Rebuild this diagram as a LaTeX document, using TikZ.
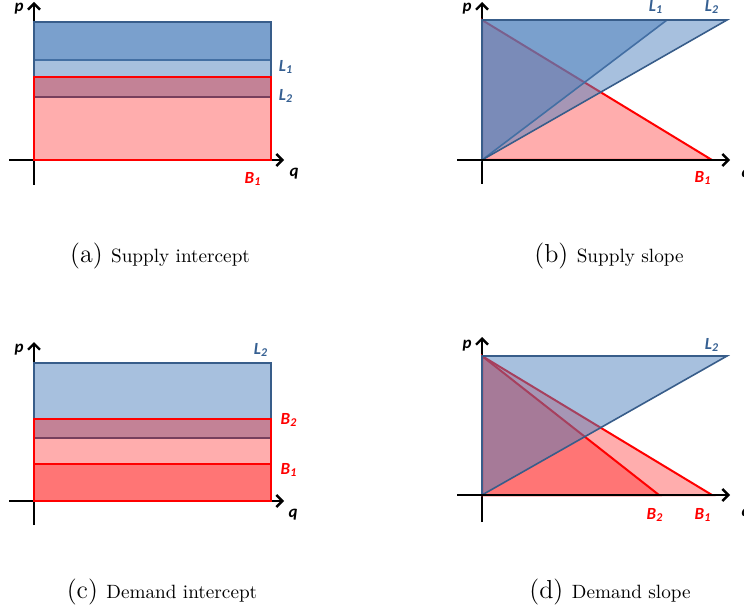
\documentclass[tikz,border=0pt]{standalone}
\usepackage{fontspec}
\newfontfamily\lblfont{Carlito}
\usetikzlibrary{arrows.meta}
\definecolor{bluefill}{RGB}{79,129,189}
\definecolor{blueline}{RGB}{56,93,138}
\definecolor{bluetext}{RGB}{54,96,146}
\newcommand{\curvelbl}[2]{#1\textsubscript{#2}}

\begin{document}
\begin{tikzpicture}[x=0.5pt,y=-0.5pt,
  axis/.style={-{Straight Barb[length=3pt,width=6pt]},line width=1.2pt},
  bluebox/.style={fill=bluefill,fill opacity=0.5,draw=blueline,line width=0.8pt},
  redbox/.style={fill=red,fill opacity=0.32,draw=red,line width=1pt},
  lbl/.style={inner sep=0pt,font=\lblfont\bfseries\itshape\fontsize{8.5}{10}\selectfont},
  bl/.style={lbl,text=bluetext},
  rl/.style={lbl,text=red},
  captxt/.style={inner sep=0pt,font=\fontsize{13}{15}\selectfont}]
\useasboundingbox (0,0) rectangle (744,609);

% (a) supply intercept
\coordinate (xa0) at (9,160);  \coordinate (xa1) at (284,160);
\coordinate (ya0) at (34,185); \coordinate (ya1) at (34,2);
\draw[axis] (xa0) -- (xa1);
\draw[axis] (ya0) -- (ya1);
\draw[bluebox] (34,22) rectangle (271,60);
\draw[bluebox] (34,22) rectangle (271,97);
\draw[redbox] (34,77) rectangle (271,160);
\node[lbl] (pa) at (19,9) {p};
\node[lbl] (qa) at (294,174) {q};
\node[bl] (l1a) at (286,67) {\curvelbl{L}{1}};
\node[bl] (l2a) at (286,96) {\curvelbl{L}{2}};
\node[rl] (b1a) at (253,179) {\curvelbl{B}{1}};
\node[captxt] (capa) at (160,256) {(a) {\fontsize{9.6}{11}\selectfont Supply intercept}};

% (b) supply slope
\coordinate (xb0) at (457,160); \coordinate (xb1) at (730,160);
\coordinate (yb0) at (482,184); \coordinate (yb1) at (482,2);
\draw[axis] (yb0) -- (yb1);
\draw[redbox] (482,20) -- (482,160) -- (712,160) -- cycle;
\draw[bluebox] (482,160) -- (482,20) -- (667,20) -- cycle;
\draw[bluebox] (482,160) -- (482,20) -- (727,20) -- cycle;
\draw[axis] (xb0) -- (xb1);
\node[lbl] (pb) at (467,9) {p};
\node[lbl] (qb) at (746,175) {q};
\node[bl] (l1b) at (656,7) {\curvelbl{L}{1}};
\node[bl] (l2b) at (712,7) {\curvelbl{L}{2}};
\node[rl] (b1b) at (703,178) {\curvelbl{B}{1}};
\node[captxt] (capb) at (609,256) {(b) {\fontsize{9.6}{11}\selectfont Supply slope}};

% (c) demand intercept
\coordinate (xc0) at (9,501);  \coordinate (xc1) at (284,501);
\coordinate (yc0) at (34,525); \coordinate (yc1) at (34,342);
\draw[axis] (xc0) -- (xc1);
\draw[axis] (yc0) -- (yc1);
\draw[bluebox] (34,363) rectangle (271,438);
\draw[redbox] (34,419) rectangle (271,501);
\draw[redbox] (34,464) rectangle (271,501);
\node[lbl] (pc) at (19,350) {p};
\node[lbl] (qc) at (293,515) {q};
\node[bl] (l2c) at (261,350) {\curvelbl{L}{2}};
\node[rl] (b2c) at (289,420) {\curvelbl{B}{2}};
\node[rl] (b1c) at (289,470) {\curvelbl{B}{1}};
\node[captxt] (capc) at (162,592) {(c) {\fontsize{9.6}{11}\selectfont Demand intercept}};

% (d) demand slope
\coordinate (xd0) at (457,495); \coordinate (xd1) at (730,495);
\coordinate (yd0) at (482,522); \coordinate (yd1) at (482,337);
\draw[axis] (yd0) -- (yd1);
\draw[redbox] (482,356) -- (482,495) -- (712,495) -- cycle;
\draw[redbox] (482,356) -- (482,495) -- (659,495) -- cycle;
\draw[bluebox] (482,495) -- (482,356) -- (727,356) -- cycle;
\draw[axis] (xd0) -- (xd1);
\node[lbl] (pd) at (467,346) {p};
\node[lbl] (qd) at (746,514) {q};
\node[bl] (l2d) at (712,345) {\curvelbl{L}{2}};
\node[rl] (b2d) at (655,515) {\curvelbl{B}{2}};
\node[rl] (b1d) at (703,515) {\curvelbl{B}{1}};
\node[captxt] (capd) at (610,592) {(d) {\fontsize{9.6}{11}\selectfont Demand slope}};
\end{tikzpicture}
\end{document}
